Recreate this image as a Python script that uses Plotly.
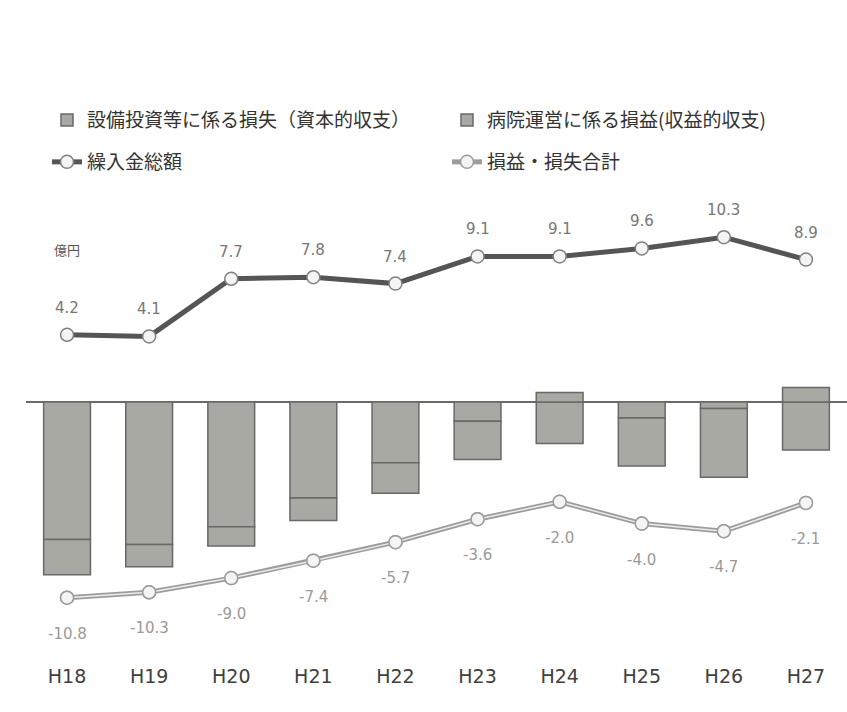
import plotly.graph_objects as go

# Fiscal years (Heisei)
years = ["H18", "H19", "H20", "H21", "H22", "H23", "H24", "H25", "H26", "H27"]

# 設備投資等に係る損失（資本的収支） [億円]
capital_loss = [-8.6, -8.9, -7.8, -6.0, -3.8, -1.2, -2.6, -1.0, -0.4, -3.0]
# 病院運営に係る損益(収益的収支) [億円]
operating_pl = [-2.2, -1.4, -1.2, -1.4, -1.9, -2.4, 0.6, -3.0, -4.3, 0.9]
# 繰入金総額 [億円]
transfer_total = [4.2, 4.1, 7.7, 7.8, 7.4, 9.1, 9.1, 9.6, 10.3, 8.9]
# 損益・損失合計 [億円]
net_total = [-10.8, -10.3, -9.0, -7.4, -5.7, -3.6, -2.0, -4.0, -4.7, -2.1]

BAR_FILL = "#a9a9a3"
BAR_EDGE = "#686868"
JP_FONT = "Noto Sans CJK JP"
NUM_FONT = "DejaVu Sans"

fig = go.Figure()

fig.add_trace(go.Bar(
    x=years, y=capital_loss, name="設備投資等に係る損失（資本的収支）",
    marker=dict(color=BAR_FILL, line=dict(color=BAR_EDGE, width=1.5)),
    legend="legend",
))
fig.add_trace(go.Bar(
    x=years, y=operating_pl, name="病院運営に係る損益(収益的収支)",
    marker=dict(color=BAR_FILL, line=dict(color=BAR_EDGE, width=1.5)),
    legend="legend",
))

# 繰入金総額 line (same scale as the bars)
fig.add_trace(go.Scatter(
    x=years, y=transfer_total, name="繰入金総額", mode="lines+markers",
    line=dict(color="#555555", width=5),
    marker=dict(size=13, color="#f4f4f4", line=dict(color="#808080", width=1.5)),
    legend="legend2",
))

# 損益・損失合計 line on its own hidden axis, drawn as a hollow band
fig.add_trace(go.Scatter(
    x=years, y=net_total, name="損益・損失合計", mode="lines+markers",
    line=dict(color="#9c9c9c", width=5),
    marker=dict(size=13, color="#f4f4f4", line=dict(color="#9c9c9c", width=1.5)),
    yaxis="y2", legend="legend2",
))
fig.add_trace(go.Scatter(
    x=years, y=net_total, mode="lines", showlegend=False, hoverinfo="skip",
    line=dict(color="#ececec", width=1.5), yaxis="y2",
))
fig.add_trace(go.Scatter(
    x=years, y=net_total, mode="markers", showlegend=False, hoverinfo="skip",
    marker=dict(size=13, color="#f4f4f4", line=dict(color="#9c9c9c", width=1.5)),
    yaxis="y2",
))

annotations = []
for yr, v in zip(years, transfer_total):
    annotations.append(dict(
        x=yr, y=v, xref="x", yref="y", text=f"{v:.1f}", showarrow=False,
        yshift=27, font=dict(family=NUM_FONT, size=15, color="#777777"),
    ))
for yr, v in zip(years, net_total):
    annotations.append(dict(
        x=yr, y=v, xref="x", yref="y2", text=f"{v:.1f}", showarrow=False,
        yshift=-36, font=dict(family=NUM_FONT, size=15, color="#9a9a9a"),
    ))
annotations.append(dict(
    x=0.032, y=0.883, xref="paper", yref="paper", xanchor="left", yanchor="middle",
    text="億円", showarrow=False,
    font=dict(family=JP_FONT, size=13, color="#555555"),
))

legend_style = dict(
    orientation="h", x=0.045, xanchor="left", yanchor="middle",
    entrywidth=355, traceorder="normal", bgcolor="rgba(0,0,0,0)",
    font=dict(family=JP_FONT, size=19, color="#333333"),
)

fig.update_layout(
    width=847, height=712,
    margin=dict(l=26, r=0, t=195, b=49),
    paper_bgcolor="white", plot_bgcolor="white",
    barmode="relative", bargap=0.43,
    xaxis=dict(
        type="category", showgrid=False, zeroline=False, showline=False, ticks="",
        tickfont=dict(family=NUM_FONT, size=19, color="#404040"),
        range=[-0.5, 9.5],
    ),
    yaxis=dict(
        range=[-16.3125, 12.9375], showgrid=False, showticklabels=False,
        zeroline=True, zerolinecolor="#6a6a6a", zerolinewidth=1.5, showline=False,
    ),
    yaxis2=dict(
        range=[-16.79, 26.15], overlaying="y", showgrid=False, showticklabels=False,
        zeroline=False, showline=False,
    ),
    legend=dict(legend_style, y=1.16),
    legend2=dict(legend_style, y=1.0705),
    annotations=annotations,
    showlegend=True,
)

fig.write_html("out.html")
